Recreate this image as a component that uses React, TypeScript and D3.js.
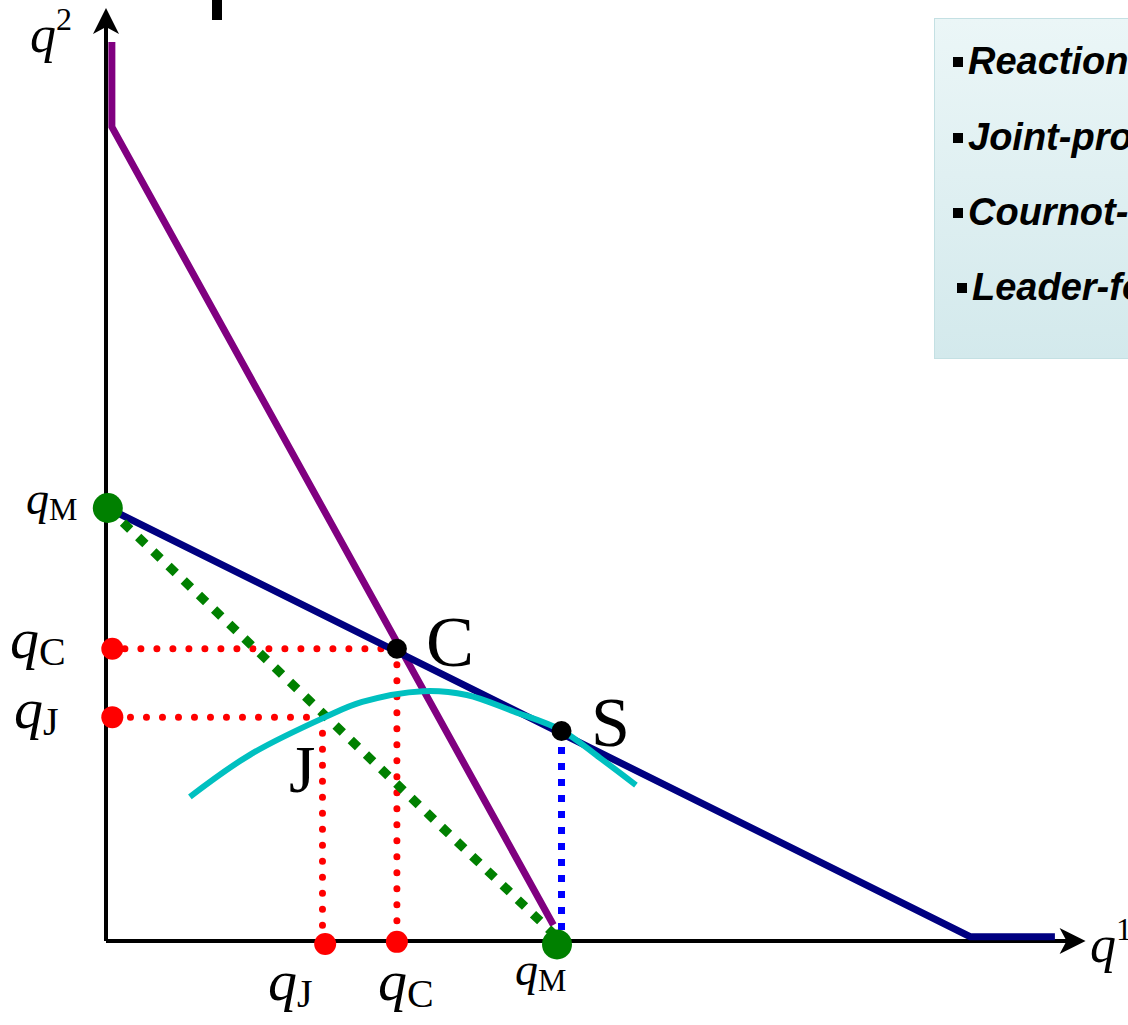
import React from "react";
import * as d3 from "d3";

// Output of firm 1 (q1) and firm 2 (q2) in the same units; monopoly output = 100.
const monopolyQ = 100;
const cournotQ1 = 64.5;
const cournotQ2 = 67.5;
const jointQ1 = 48;
const jointQ2 = 51.7;
const leaderQ1 = 101;
const leaderQ2 = 48.5;

// Reaction function of firm 1 (purple) and of firm 2 (navy)
const reaction1: [number, number][] = [
  [1.3, 207.6],
  [1.3, 188],
  [99.2, 3.7],
];
const reaction2: [number, number][] = [
  [0.4, 100],
  [191.6, 1],
  [210.4, 1],
];
// Joint-profit (contract) line between the two monopoly points
const jointLine: [number, number][] = [
  [0.4, 100],
  [99.4, 1.5],
];
// Leader's iso-profit curve, tangent to firm 2's reaction function at S
const isoProfit: [number, number][] = [
  [18.6, 33.3],
  [31.9, 43.0],
  [48.6, 51.7],
  [56.8, 55.2],
  [70.3, 57.7],
  [80.0, 56.8],
  [90.4, 53.0],
  [100.9, 48.7],
  [109.5, 42.3],
  [117.5, 36.0],
];

const legendItems = [
  "Reaction functions",
  "Joint-profit maximisation",
  "Cournot-Nash equilibrium",
  "Leader-follower",
];

const W = 1128;
const H = 1025;

export default function App() {
  const x = d3.scaleLinear().domain([0, 100]).range([106, 557]);
  const y = d3.scaleLinear().domain([0, 100]).range([941, 508]);
  const xMax = 217.2;
  const yMax = 215.5;

  const line = d3
    .line<[number, number]>()
    .x((d) => x(d[0]))
    .y((d) => y(d[1]));
  const curve = d3
    .line<[number, number]>()
    .x((d) => x(d[0]))
    .y((d) => y(d[1]))
    .curve(d3.curveCatmullRom.alpha(0.5));

  const serif = "'Liberation Serif', 'Times New Roman', serif";
  const sans = "'Liberation Sans', Arial, sans-serif";

  const x0 = x(0);
  const y0 = y(0);
  const xEnd = x(xMax);
  const yEnd = y(yMax);

  const qLabel = (
    px: number,
    py: number,
    sub: string,
    size: number,
    subSize: number,
    key: string
  ) => (
    <text key={key} x={px} y={py} fontFamily={serif} fill="#000">
      <tspan fontStyle="italic" fontSize={size}>
        q
      </tspan>
      <tspan fontSize={subSize} dy={size * 0.12}>
        {sub}
      </tspan>
    </text>
  );

  return (
    <svg
      width={W}
      height={H}
      viewBox={`0 0 ${W} ${H}`}
      style={{ position: "absolute", left: 0, top: 0, background: "#fff" }}
    >
      <defs>
        <linearGradient id="legendFill" x1="0" y1="0" x2="0" y2="1">
          <stop offset="0" stopColor="#ebf6f7" />
          <stop offset="1" stopColor="#d3e9ec" />
        </linearGradient>
      </defs>

      {/* stem of the heading above the plot */}
      <rect x={212} y={0} width={10} height={20} fill="#000" />

      {/* legend panel */}
      <rect
        x={934.5}
        y={18.5}
        width={220}
        height={340}
        fill="url(#legendFill)"
        stroke="#c4e0e3"
        strokeWidth={1}
      />
      {legendItems.map((t, i) => {
        const by = [74, 150, 225, 300][i];
        const bx = i === 3 ? 957 : 953;
        return (
          <g key={t}>
            <rect x={bx} y={by - 17} width={10} height={10} fill="#000" />
            <text
              x={bx + 15}
              y={by}
              fontFamily={sans}
              fontWeight="bold"
              fontStyle="italic"
              fontSize={38}
              fill="#000"
            >
              {t}
            </text>
          </g>
        );
      })}

      {/* axes */}
      <line x1={x0} y1={y0} x2={x0} y2={yEnd + 14} stroke="#000" strokeWidth={4} />
      <line x1={x0} y1={y0} x2={xEnd - 14} y2={y0} stroke="#000" strokeWidth={4} />
      <path
        d={`M${x0},${yEnd} L${x0 + 13},${yEnd + 26} L${x0},${yEnd + 19} L${x0 - 13},${yEnd + 26} Z`}
        fill="#000"
      />
      <path
        d={`M${xEnd},${y0} L${xEnd - 26},${y0 + 13} L${xEnd - 19},${y0} L${xEnd - 26},${y0 - 13} Z`}
        fill="#000"
      />

      {/* red guides to the Cournot and joint-profit outputs */}
      <g stroke="#ff0000" strokeWidth={7} strokeLinecap="round" strokeDasharray="0 16" fill="none">
        <line x1={x(cournotQ1)} y1={y(cournotQ2)} x2={x(1.5)} y2={y(cournotQ2)} />
        <line x1={x(cournotQ1)} y1={y(cournotQ2)} x2={x(cournotQ1)} y2={y(0)} />
        <line x1={x(jointQ1)} y1={y(jointQ2)} x2={x(1.5)} y2={y(jointQ2)} />
        <line x1={x(jointQ1)} y1={y(jointQ2)} x2={x(jointQ1)} y2={y(0)} />
      </g>

      {/* reaction functions */}
      <path d={line(reaction1) ?? ""} fill="none" stroke="#800080" strokeWidth={7} />
      <path d={line(reaction2) ?? ""} fill="none" stroke="#000080" strokeWidth={7} />

      {/* joint-profit line */}
      <path
        d={line(jointLine) ?? ""}
        fill="none"
        stroke="#008000"
        strokeWidth={9}
        strokeDasharray="10 11"
      />

      {/* leader iso-profit curve */}
      <path d={curve(isoProfit) ?? ""} fill="none" stroke="#00c0c0" strokeWidth={6} />

      {/* Stackelberg drop line */}
      <line
        x1={x(leaderQ1)}
        y1={y(leaderQ2)}
        x2={x(leaderQ1)}
        y2={y(1.5)}
        stroke="#0000ff"
        strokeWidth={7}
        strokeDasharray="7 9"
      />

      {/* marked points */}
      <circle cx={x(0.4)} cy={y(monopolyQ)} r={15} fill="#008000" />
      <circle cx={x(monopolyQ)} cy={y(-0.8)} r={15} fill="#008000" />
      <circle cx={x(1.4)} cy={y(cournotQ2)} r={11} fill="#ff0000" />
      <circle cx={x(1.4)} cy={y(jointQ2)} r={11} fill="#ff0000" />
      <circle cx={x(cournotQ1)} cy={y(-0.2)} r={11} fill="#ff0000" />
      <circle cx={x(48.6)} cy={y(-0.7)} r={11} fill="#ff0000" />
      <circle cx={x(cournotQ1)} cy={y(cournotQ2)} r={10} fill="#000" />
      <circle cx={x(leaderQ1)} cy={y(leaderQ2)} r={10} fill="#000" />

      {/* point letters */}
      <text x={426} y={666} fontFamily={serif} fontSize={72} fill="#000">
        C
      </text>
      <text x={591} y={746} fontFamily={serif} fontSize={70} fill="#000">
        S
      </text>
      <text x={289} y={792} fontFamily={serif} fontSize={68} fill="#000">
        J
      </text>

      {/* axis titles */}
      <text x={30} y={52} fontFamily={serif} fill="#000">
        <tspan fontStyle="italic" fontSize={52}>
          q
        </tspan>
        <tspan fontSize={32} dy={-22}>
          2
        </tspan>
      </text>
      <text x={1090} y={962} fontFamily={serif} fill="#000">
        <tspan fontStyle="italic" fontSize={52}>
          q
        </tspan>
        <tspan fontSize={32} dy={-22}>
          1
        </tspan>
      </text>

      {/* output labels */}
      {qLabel(26, 514, "M", 46, 32, "qm2")}
      {qLabel(10, 658, "C", 58, 40, "qc2")}
      {qLabel(14, 728, "J", 58, 40, "qj2")}
      {qLabel(268, 1000, "J", 58, 40, "qj1")}
      {qLabel(378, 1000, "C", 58, 40, "qc1")}
      {qLabel(515, 985, "M", 46, 32, "qm1")}
    </svg>
  );
}
